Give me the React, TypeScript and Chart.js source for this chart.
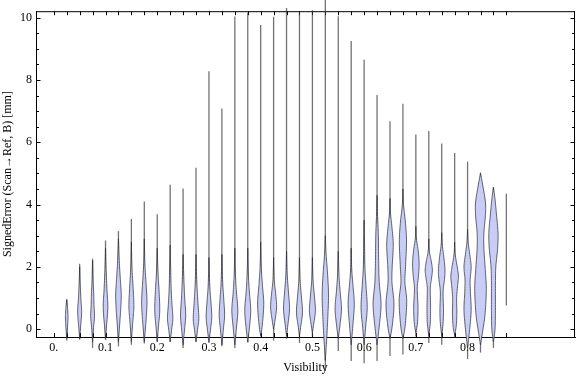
import { useEffect, useRef } from 'react';
import { Chart, registerables } from 'chart.js';
Chart.register(...registerables);

// Bin centres (Visibility)
const visibility = [
  0.025, 0.05, 0.075, 0.1, 0.125, 0.15, 0.175, 0.2, 0.225, 0.25,
  0.275, 0.3, 0.325, 0.35, 0.375, 0.4, 0.425, 0.45, 0.475, 0.5,
  0.525, 0.55, 0.575, 0.6, 0.625, 0.65, 0.675, 0.7, 0.725, 0.75,
  0.775, 0.8, 0.825, 0.85, 0.875,
];

// Range of each distribution (SignedError, mm)
const minValues = [
  -0.36, -0.34, -0.6, -0.35, -0.55, -0.5, -0.46, -0.4, -0.41, -0.6,
  -0.4, -0.44, -0.55, -0.6, -0.43, -0.23, -0.36, -0.31, -0.44, -0.23,
  -1.34, -0.7, -1.02, -1.09, -1.02, -0.86, -0.81, -0.23, -0.44, -0.5,
  -0.28, -0.96, -0.75, -0.6, 0.76,
];
const maxValues = [
  0.95, 2.1, 2.26, 2.85, 3.15, 3.54, 4.1, 3.69, 4.64, 4.52,
  5.18, 8.28, 7.09, 10.04, 10.16, 9.77, 10.03, 10.31, 10.19, 10.24,
  10.6, 10.05, 9.25, 8.65, 7.52, 6.68, 7.24, 6.25, 6.36, 5.96,
  5.66, 5.38, 5.03, 4.56, 4.35,
];

// Density profile knots: [value, relative density]
const densityProfiles: number[][][] = [
  [[-0.3, 0], [0.1, 0.9], [0.4, 1.3], [0.7, 0.8], [0.95, 0]],
  [[-0.3, 0], [0.1, 1.0], [0.55, 2.0], [1.0, 1.2], [1.5, 0.5], [2.0, 0]],
  [[-0.4, 0], [0.0, 0.8], [0.4, 1.9], [0.8, 1.4], [1.1, 1.2], [1.6, 0.5], [2.2, 0]],
  [[-0.3, 0], [0.1, 1.0], [0.7, 2.3], [1.3, 1.4], [2.0, 0.5], [2.6, 0]],
  [[-0.4, 0], [0.1, 1.1], [0.6, 2.2], [1.1, 2.8], [1.6, 1.9], [2.2, 0.8], [2.9, 0]],
  [[-0.4, 0], [0.1, 1.1], [0.5, 2.1], [0.8, 2.5], [1.3, 1.8], [2.0, 0.6], [2.8, 0]],
  [[-0.4, 0], [0.1, 1.3], [0.5, 2.2], [0.9, 2.7], [1.4, 1.9], [2.1, 0.6], [2.9, 0]],
  [[-0.4, 0], [0.1, 1.3], [0.6, 2.5], [1.2, 1.9], [1.8, 0.8], [2.6, 0]],
  [[-0.4, 0], [0.0, 1.5], [0.35, 2.7], [0.8, 1.8], [1.3, 1.0], [2.0, 0.5], [2.7, 0]],
  [[-0.5, 0], [0.0, 1.5], [0.45, 2.6], [1.0, 1.6], [1.6, 0.8], [2.4, 0]],
  [[-0.4, 0], [0.0, 1.6], [0.35, 2.8], [0.9, 1.8], [1.5, 0.8], [2.4, 0]],
  [[-0.4, 0], [0.0, 1.6], [0.4, 2.8], [0.9, 1.9], [1.4, 0.8], [2.3, 0]],
  [[-0.5, 0], [0.0, 1.5], [0.45, 2.7], [1.0, 1.8], [1.5, 0.8], [2.4, 0]],
  [[-0.5, 0], [0.0, 1.5], [0.6, 3.0], [1.2, 1.6], [1.8, 0.6], [2.6, 0]],
  [[-0.4, 0], [0.0, 1.5], [0.6, 3.0], [1.2, 1.6], [1.8, 0.6], [2.6, 0]],
  [[-0.2, 0], [0.1, 1.5], [0.8, 3.1], [1.4, 1.8], [2.0, 0.6], [2.8, 0]],
  [[0.0, 0], [0.3, 1.5], [0.7, 3.0], [1.1, 2.2], [1.6, 0.6], [2.3, 0]],
  [[-0.2, 0], [0.1, 1.2], [0.65, 3.0], [1.2, 1.9], [1.8, 0.6], [2.5, 0]],
  [[-0.2, 0], [0.1, 1.3], [0.55, 3.0], [1.1, 1.8], [1.6, 0.6], [2.3, 0]],
  [[-0.1, 0], [0.2, 1.5], [0.6, 3.0], [1.1, 1.9], [1.6, 0.6], [2.3, 0]],
  [[-1.0, 0], [-0.3, 1.4], [0.4, 2.5], [1.1, 3.2], [1.8, 2.2], [2.4, 0.8], [3.0, 0]],
  [[-0.3, 0], [0.1, 1.6], [0.65, 3.2], [1.2, 1.9], [1.7, 0.8], [2.5, 0]],
  [[-0.5, 0], [0.1, 1.6], [0.8, 3.1], [1.4, 1.8], [1.9, 0.6], [2.6, 0]],
  [[-0.5, 0], [0.1, 1.6], [0.7, 3.1], [1.4, 1.9], [2.0, 0.8], [2.8, 0.4], [3.5, 0]],
  [[-0.5, 0], [0.1, 2.2], [0.8, 4.0], [1.5, 2.2], [2.2, 1.6], [3.0, 1.3], [3.7, 0.5], [4.3, 0]],
  [[-0.3, 0], [0.1, 2.2], [0.8, 4.0], [1.5, 2.0], [2.0, 2.2], [2.7, 3.3], [3.2, 2.2], [3.7, 0.6], [4.2, 0]],
  [[-0.3, 0], [0.1, 2.2], [0.9, 3.8], [1.5, 2.0], [2.0, 2.6], [2.8, 3.6], [3.4, 2.6], [4.0, 0.6], [4.5, 0]],
  [[-0.1, 0], [0.2, 1.6], [0.7, 2.2], [1.3, 1.4], [1.7, 2.6], [2.1, 3.3], [2.5, 2.4], [2.9, 0.6], [3.3, 0]],
  [[-0.2, 0], [0.2, 1.5], [0.7, 1.8], [1.3, 1.5], [1.6, 2.6], [1.9, 3.6], [2.2, 2.4], [2.5, 0.6], [2.9, 0]],
  [[-0.2, 0], [0.2, 1.4], [0.6, 1.8], [1.2, 1.4], [1.6, 2.8], [1.9, 3.3], [2.3, 2.2], [2.7, 0.6], [3.1, 0]],
  [[-0.2, 0], [0.1, 1.6], [0.5, 2.2], [1.0, 2.0], [1.4, 3.0], [1.7, 3.8], [2.0, 2.6], [2.4, 0.6], [2.8, 0]],
  [[-0.6, 0], [-0.1, 1.8], [0.6, 3.6], [1.2, 2.8], [1.6, 2.6], [2.0, 3.6], [2.4, 2.2], [2.8, 0.6], [3.2, 0]],
  [[-0.5, 0], [-0.1, 2.0], [0.5, 4.6], [1.3, 5.8], [2.0, 4.6], [2.6, 3.4], [3.1, 3.4], [3.6, 4.8], [4.05, 5.0], [4.6, 2.4], [5.0, 0]],
  [[-0.4, 0], [0.0, 1.6], [0.6, 2.0], [1.4, 2.0], [2.0, 2.4], [2.6, 4.2], [3.1, 4.6], [3.7, 3.0], [4.2, 1.5], [4.55, 0]],
  [],
];

// Axis ticks
const xTickValues = [
  0, 0.025, 0.05, 0.075, 0.1, 0.125, 0.15, 0.175, 0.2, 0.225, 0.25,
  0.275, 0.3, 0.325, 0.35, 0.375, 0.4, 0.425, 0.45, 0.475, 0.5,
  0.525, 0.55, 0.575, 0.6, 0.625, 0.65, 0.675, 0.7, 0.725, 0.75,
  0.775, 0.8, 0.825, 0.85, 0.875,
];
const xLabelValues = [0, 0.1, 0.2, 0.3, 0.4, 0.5, 0.6, 0.7, 0.8];
const xLabelTexts = ['0.', '0.1', '0.2', '0.3', '0.4', '0.5', '0.6', '0.7', '0.8'];
const yTickValues = [
  0, 0.5, 1, 1.5, 2, 2.5, 3, 3.5, 4, 4.5, 5, 5.5, 6, 6.5, 7, 7.5, 8, 8.5, 9, 9.5, 10,
];
const yLabelValues = [0, 2, 4, 6, 8, 10];

const FONT_FAMILY = '"Liberation Serif", "Times New Roman", "DejaVu Serif", serif';
const DENSITY_TO_X = 0.00193; // x-units per density unit

function smoothProfile(knots: number[][]): number[][] {
  const pts: number[][] = [];
  const n = knots.length;
  const steps = 8;
  for (let k = 0; k < n - 1; k++) {
    const p0 = knots[Math.max(k - 1, 0)];
    const p1 = knots[k];
    const p2 = knots[k + 1];
    const p3 = knots[Math.min(k + 2, n - 1)];
    for (let s = 0; s < steps; s++) {
      const t = s / steps, t2 = t * t, t3 = t2 * t;
      const f = (a: number, b: number, c: number, d: number) =>
        0.5 * (2 * b + (-a + c) * t + (2 * a - 5 * b + 4 * c - d) * t2 + (-a + 3 * b - 3 * c + d) * t3);
      pts.push([f(p0[0], p1[0], p2[0], p3[0]), Math.max(0, f(p0[1], p1[1], p2[1], p3[1]))]);
    }
  }
  pts.push(knots[n - 1]);
  return pts;
}

const framePlugin = {
  id: 'frameTicks',
  beforeDatasetsDraw(chart: any) {
    const { ctx, chartArea, scales } = chart;
    const { left, right, top, bottom } = chartArea;
    ctx.save();
    ctx.strokeStyle = '#000';
    ctx.lineWidth = 1;
    ctx.beginPath();
    ctx.moveTo(left, top + 0.5);
    ctx.lineTo(right, top + 0.5);
    ctx.moveTo(right - 0.5, top);
    ctx.lineTo(right - 0.5, bottom);
    scales.x.ticks.forEach((t: any) => {
      const px = Math.round(scales.x.getPixelForValue(t.value)) + 0.5;
      ctx.moveTo(px, bottom);
      ctx.lineTo(px, bottom - 4);
      ctx.moveTo(px, top);
      ctx.lineTo(px, top + 4);
    });
    scales.y.ticks.forEach((t: any) => {
      const py = Math.round(scales.y.getPixelForValue(t.value)) + 0.5;
      const major = yLabelValues.some((v) => Math.abs(v - t.value) < 1e-6);
      const len = major ? 4.5 : 3;
      ctx.moveTo(left, py);
      ctx.lineTo(left + len, py);
      ctx.moveTo(right, py);
      ctx.lineTo(right - len, py);
    });
    ctx.stroke();
    ctx.restore();
  },
};

const violinPlugin = {
  id: 'violins',
  afterDatasetsDraw(chart: any) {
    const { ctx, scales } = chart;
    const xs = scales.x, ys = scales.y;
    ctx.save();
    visibility.forEach((pos, i) => {
      const cx = xs.getPixelForValue(pos);
      ctx.beginPath();
      ctx.strokeStyle = 'rgba(55,55,60,0.7)';
      ctx.lineWidth = 1.3;
      ctx.moveTo(cx, ys.getPixelForValue(minValues[i]));
      ctx.lineTo(cx, ys.getPixelForValue(maxValues[i]));
      ctx.stroke();
      const knots = densityProfiles[i];
      if (!knots.length) return;
      const pts = smoothProfile(knots);
      ctx.beginPath();
      pts.forEach((p, j) => {
        const x = xs.getPixelForValue(pos + p[1] * DENSITY_TO_X);
        const y = ys.getPixelForValue(p[0]);
        if (j === 0) ctx.moveTo(x, y);
        else ctx.lineTo(x, y);
      });
      for (let j = pts.length - 1; j >= 0; j--) {
        const p = pts[j];
        ctx.lineTo(xs.getPixelForValue(pos - p[1] * DENSITY_TO_X), ys.getPixelForValue(p[0]));
      }
      ctx.closePath();
      ctx.fillStyle = 'rgb(200,205,246)';
      ctx.fill();
      ctx.strokeStyle = 'rgba(45,45,55,0.85)';
      ctx.lineWidth = 0.85;
      ctx.lineJoin = 'round';
      ctx.stroke();
    });
    ctx.restore();
  },
};

export default function App() {
  const canvasRef = useRef<HTMLCanvasElement | null>(null);
  useEffect(() => {
    document.body.style.margin = '0';
    const canvas = canvasRef.current;
    if (!canvas) return;
    const font = { family: FONT_FAMILY, size: 12 };
    const chart = new Chart(canvas, {
      type: 'scatter',
      data: {
        datasets: [
          {
            data: visibility.map((v, i) => ({ x: v, y: maxValues[i] })),
            pointRadius: 0,
            showLine: false,
          },
        ],
      },
      options: {
        animation: false,
        responsive: false,
        maintainAspectRatio: false,
        layout: { padding: { top: 4, right: 1, left: 0, bottom: 0 } },
        plugins: { legend: { display: false }, tooltip: { enabled: false } },
        scales: {
          x: {
            type: 'linear',
            min: -0.0344,
            max: 1.0077,
            afterBuildTicks: (s: any) => {
              s.ticks = xTickValues.map((v) => ({ value: v }));
            },
            afterFit: (s: any) => {
              s.height = 40;
            },
            ticks: {
              autoSkip: false,
              maxRotation: 0,
              padding: 3.5,
              color: '#000',
              font,
              callback: (v: any) => {
                const k = xLabelValues.findIndex((lv) => Math.abs(lv - Number(v)) < 1e-6);
                return k >= 0 ? xLabelTexts[k] : '';
              },
            },
            grid: { display: false, drawTicks: false },
            border: { display: true, color: '#000', width: 1 },
            title: {
              display: true,
              text: 'Visibility',
              color: '#000',
              font,
              padding: { top: 0, bottom: 2 },
            },
          },
          y: {
            type: 'linear',
            min: -0.25,
            max: 10.21,
            afterBuildTicks: (s: any) => {
              s.ticks = yTickValues.map((v) => ({ value: v }));
            },
            afterFit: (s: any) => {
              s.width = 36;
            },
            ticks: {
              autoSkip: false,
              padding: 4,
              color: '#000',
              font,
              callback: (v: any) =>
                yLabelValues.some((lv) => Math.abs(lv - Number(v)) < 1e-6) ? String(v) : '',
            },
            grid: { display: false, drawTicks: false },
            border: { display: true, color: '#000', width: 1 },
            title: {
              display: true,
              text: 'SignedError (Scan\u2192Ref, B) [mm]',
              color: '#000',
              font,
              padding: { top: 0.5, bottom: 0 },
            },
          },
        },
      } as any,
      plugins: [framePlugin, violinPlugin],
    });
    return () => chart.destroy();
  }, []);
  return <canvas ref={canvasRef} width={576} height={377} style={{ display: 'block' }} />;
}
